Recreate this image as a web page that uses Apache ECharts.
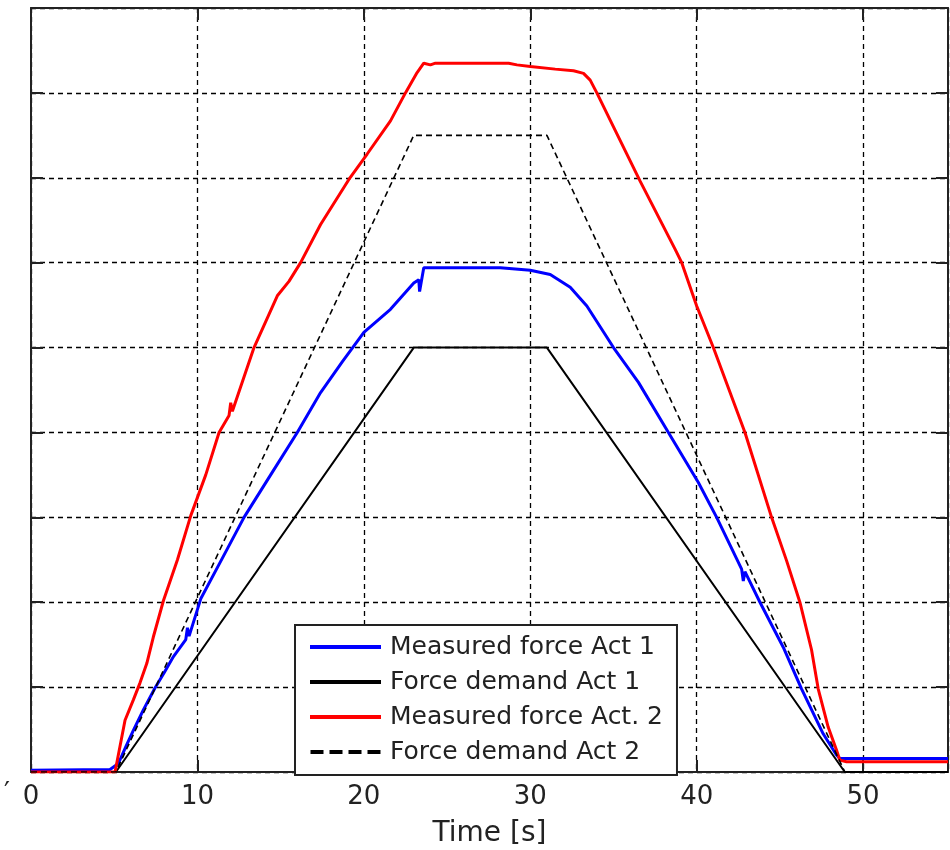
<!DOCTYPE html>
<html>
<head>
<meta charset="utf-8">
<script src="https://cdn.jsdelivr.net/npm/echarts@6/dist/echarts.min.js"></script>
<style>html,body{margin:0;padding:0;background:#fff}#c{width:950px;height:850px}</style>
</head>
<body>
<div id="c"></div>
<script>
// Time [s]
var xTicks = [0, 10, 20, 30, 40, 50];
var seriesNames = ['Measured force Act 1', 'Force demand Act 1', 'Measured force Act. 2', 'Force demand Act 2'];

var meas1T = [0, 4.75, 5.25, 5.7, 6.15, 6.75, 7.45, 8.0, 8.56, 9.3, 9.4, 9.5, 10.2, 11.5, 12.8, 14.4, 16.0, 17.4, 18.7, 20.0, 21.6, 23.0, 23.3, 23.35, 23.6, 25.2, 28.2, 30.0, 31.2, 32.4, 33.4, 35.0, 36.5, 38.3, 40.1, 41.2, 42.7, 42.8, 42.9, 43.8, 45.2, 46.3, 47.6, 48.4, 48.6, 50.0, 55.1];
var meas1V = [0.02, 0.03, 0.1, 0.3, 0.49, 0.73, 0.99, 1.17, 1.36, 1.56, 1.7, 1.6, 2.04, 2.52, 3.0, 3.5, 4.0, 4.47, 4.83, 5.18, 5.45, 5.76, 5.8, 5.66, 5.94, 5.94, 5.94, 5.91, 5.86, 5.71, 5.49, 5.0, 4.59, 4.0, 3.41, 3.0, 2.39, 2.25, 2.36, 2.0, 1.47, 0.98, 0.45, 0.2, 0.16, 0.16, 0.16];

var dem1T = [0, 5.1, 23.0, 31.0, 48.9, 55.1];
var dem1V = [0, 0, 5.0, 5.0, 0, 0];

var meas2T = [0, 5.05, 5.65, 6.15, 6.55, 6.96, 7.35, 7.96, 8.8, 9.6, 10.5, 11.3, 11.9, 12.0, 12.1, 13.4, 14.8, 15.5, 16.2, 17.4, 19.1, 20.2, 21.6, 22.5, 23.2, 23.6, 24.0, 24.3, 28.7, 29.2, 30.0, 31.5, 32.6, 33.2, 33.6, 34.0, 35.0, 36.6, 38.7, 39.1, 40.0, 41.0, 42.9, 44.5, 45.4, 46.2, 46.9, 47.3, 47.9, 48.4, 48.6, 49.0, 55.1];
var meas2V = [0.0, 0.0, 0.61, 0.85, 1.05, 1.28, 1.59, 2.02, 2.5, 3.02, 3.5, 4.0, 4.2, 4.35, 4.25, 5.0, 5.61, 5.78, 6.0, 6.45, 6.98, 7.28, 7.67, 8.0, 8.24, 8.35, 8.33, 8.35, 8.35, 8.33, 8.31, 8.28, 8.26, 8.23, 8.15, 8.0, 7.6, 6.96, 6.16, 6.0, 5.49, 5.0, 4.0, 3.0, 2.49, 2.0, 1.44, 0.98, 0.53, 0.26, 0.14, 0.12, 0.12];

var dem2T = [0, 5.1, 23.0, 31.0, 48.9, 55.1];
var dem2V = [0, 0, 7.5, 7.5, 0, 0];

function zip(t, v) { return t.map(function (x, i) { return [x, v[i]]; }); }

var chart = echarts.init(document.getElementById('c'), null, { renderer: 'canvas' });
var FONT = 'DejaVu Sans';
function gridLine() { return { show: true, lineStyle: { color: '#000', width: 1.3, type: [5, 4] } }; }
function axisLineS() { return { show: true, onZero: false, lineStyle: { color: '#222', width: 2 } }; }
function tickS() { return { show: true, inside: true, length: 12, lineStyle: { color: '#222', width: 2 } }; }
var dashIcon = 'path://M0,0H13V4H0ZM19,0H32V4H19ZM38,0H51V4H38ZM57,0H70V4H57Z';

chart.setOption({
  animation: false,
  backgroundColor: '#fff',
  grid: { left: 31, right: 2, top: 8, bottom: 78, containLabel: false, outerBoundsMode: 'none' },
  xAxis: [{
    type: 'value', min: 0, max: 55.1, interval: 10,
    name: 'Time [s]', nameLocation: 'middle', nameGap: 48,
    nameTextStyle: { fontFamily: FONT, fontSize: 28, color: '#222' },
    axisLine: axisLineS(), axisTick: tickS(),
    axisLabel: { fontFamily: FONT, fontSize: 26, color: '#222', margin: 12,
      formatter: function (v) { return xTicks.indexOf(v) >= 0 ? String(v) : ''; } },
    splitLine: gridLine()
  }, {
    type: 'value', position: 'top', min: 0, max: 55.1, interval: 10,
    axisLine: axisLineS(), axisTick: tickS(), axisLabel: { show: false }, splitLine: { show: false }
  }],
  yAxis: [{
    type: 'value', min: 0, max: 9, interval: 1,
    axisLine: axisLineS(), axisTick: tickS(), axisLabel: { show: false }, splitLine: gridLine()
  }, {
    type: 'value', position: 'right', min: 0, max: 9, interval: 1,
    axisLine: axisLineS(), axisTick: tickS(), axisLabel: { show: false }, splitLine: { show: false }
  }],
  legend: {
    orient: 'vertical', left: 295, top: 625,
    backgroundColor: '#fff', borderColor: '#222', borderWidth: 2, borderRadius: 0,
    padding: [9, 14, 10, 15], itemGap: 9, itemWidth: 71, itemHeight: 4,
    textStyle: { fontFamily: FONT, fontSize: 25, color: '#222', lineHeight: 26, padding: [0, 0, 0, 4] },
    data: [
      { name: seriesNames[0], icon: 'rect' },
      { name: seriesNames[1], icon: 'rect' },
      { name: seriesNames[2], icon: 'rect' },
      { name: seriesNames[3], icon: dashIcon }
    ]
  },
  graphic: [{ type: 'text', left: 4, top: 781, style: { text: '\u2032', font: '26px "DejaVu Sans"', fill: '#222' } }],
  series: [
    { name: seriesNames[0], type: 'line', data: zip(meas1T, meas1V), showSymbol: false, symbol: 'none',
      lineStyle: { color: '#0000ff', width: 3 }, itemStyle: { color: '#0000ff' } },
    { name: seriesNames[1], type: 'line', data: zip(dem1T, dem1V), showSymbol: false, symbol: 'none',
      lineStyle: { color: '#000', width: 2 }, itemStyle: { color: '#000' } },
    { name: seriesNames[2], type: 'line', data: zip(meas2T, meas2V), showSymbol: false, symbol: 'none',
      lineStyle: { color: '#ff0000', width: 3 }, itemStyle: { color: '#ff0000' } },
    { name: seriesNames[3], type: 'line', data: zip(dem2T, dem2V), showSymbol: false, symbol: 'none',
      lineStyle: { color: '#000', width: 1.6, type: [6, 4] }, itemStyle: { color: '#000' } }
  ]
});
</script>
</body>
</html>
